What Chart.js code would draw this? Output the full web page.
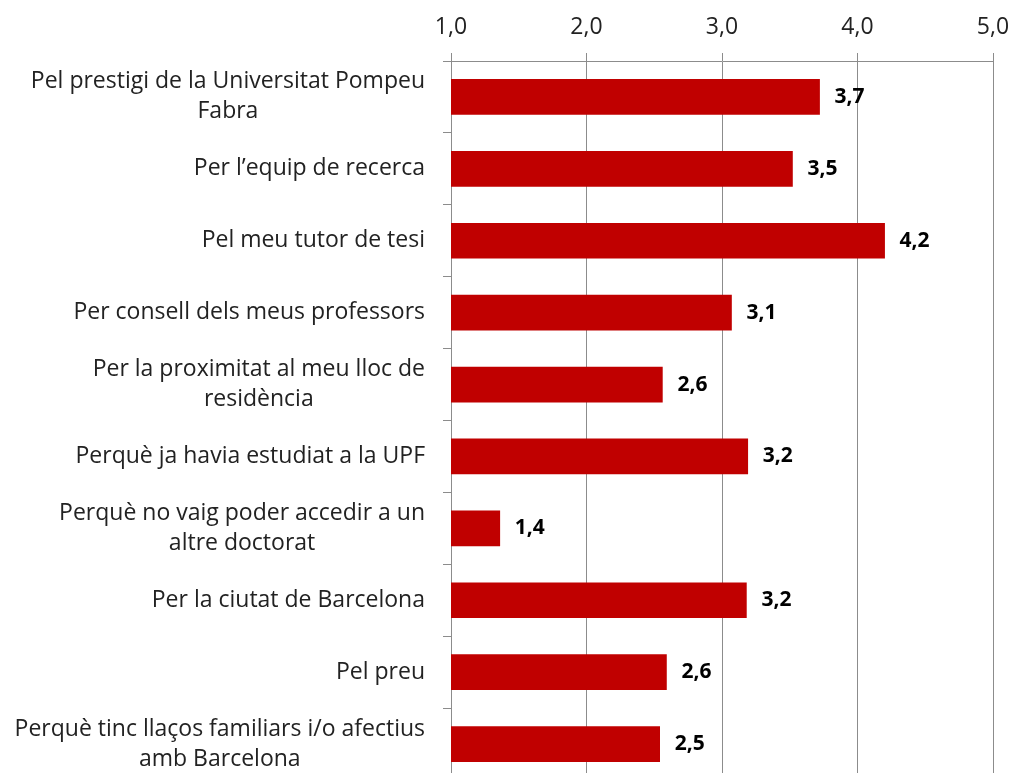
<!DOCTYPE html>
<html>
<head>
<meta charset="utf-8">
<script src="https://cdn.jsdelivr.net/npm/chart.js@4/dist/chart.umd.min.js"></script>
<style>
  html, body { margin: 0; padding: 0; background: #fff; overflow: hidden; }
  #wrap { position: relative; width: 1011px; height: 782px; }
</style>
</head>
<body>
<div id="wrap"><canvas id="chart"></canvas></div>
<script>
// categories (multi-line as in the original)
var reasons = [
    ['Pel prestigi de la Universitat Pompeu', 'Fabra'],
    ['Per l\u2019equip de recerca'],
    ['Pel meu tutor de tesi'],
    ['Per consell dels meus professors'],
    ['Per la proximitat al meu lloc de', 'resid\u00e8ncia'],
    ['Perqu\u00e8 ja havia estudiat a la UPF'],
    ['Perqu\u00e8 no vaig poder accedir a un', 'altre doctorat'],
    ['Per la ciutat de Barcelona'],
    ['Pel preu'],
    ['Perqu\u00e8 tinc lla\u00e7os familiars i/o afectius', 'amb Barcelona']
];
// mean scores
var scores = [3.72, 3.52, 4.20, 3.07, 2.56, 3.19, 1.36, 3.18, 2.59, 2.54];
// axis ticks
var axisMin = 1, axisMax = 5, axisStep = 1;

var fontFam = '"Open Sans", sans-serif';

function fmt(v) {
    return v.toFixed(1).replace('.', ',');
}

// draws the value next to each bar and the category labels left of the axis
var labelPlugin = {
    id: 'labelPlugin',
    afterDatasetsDraw: function(chart) {
        var ctx = chart.ctx;
        var meta = chart.getDatasetMeta(0);
        ctx.save();
        ctx.fillStyle = '#000';
        ctx.font = 'bold 21px ' + fontFam;
        ctx.textAlign = 'left';
        ctx.textBaseline = 'middle';
        meta.data.forEach(function(bar, i) {
            ctx.fillText(fmt(scores[i]), bar.x + 15, bar.y);
        });

        // category labels: block right-aligned, lines centered inside block
        var yScale = chart.scales.y;
        var right = 425;
        var lineH = 30;
        ctx.font = '23px ' + fontFam;
        ctx.fillStyle = '#222';
        ctx.textAlign = 'center';
        reasons.forEach(function(lines, i) {
            var cy = yScale.getPixelForValue(i);
            var maxW = 0;
            lines.forEach(function(l) { maxW = Math.max(maxW, ctx.measureText(l).width); });
            var cx = right - maxW / 2;
            var y0 = cy - (lines.length - 1) * lineH / 2;
            lines.forEach(function(l, k) {
                ctx.fillText(l, cx, y0 + k * lineH);
            });
        });
        ctx.restore();
    }
};

var ctx = document.getElementById('chart').getContext('2d');
var chart = new Chart(ctx, {
    type: 'bar',
    data: {
        labels: reasons,
        datasets: [{
            data: scores,
            backgroundColor: '#c00000',
            borderWidth: 0,
            barThickness: 35
        }]
    },
    options: {
        indexAxis: 'y',
        responsive: true,
        maintainAspectRatio: false,
        animation: false,
        layout: { padding: { left: 0, right: 0, top: 0, bottom: 2 } },
        plugins: {
            legend: { display: false },
            tooltip: { enabled: false }
        },
        scales: {
            x: {
                position: 'top',
                min: axisMin,
                max: axisMax,
                ticks: {
                    stepSize: axisStep,
                    padding: 12,
                    color: '#222',
                    font: { family: fontFam, size: 23 },
                    callback: function(v) { return fmt(v); }
                },
                grid: { color: '#8c8c8c', lineWidth: 1, tickLength: 8 },
                border: { color: '#8c8c8c' },
                afterFit: function(scale) {
                    scale.height = 61;
                    scale.paddingLeft = 0;
                    scale.paddingRight = 18;
                }
            },
            y: {
                ticks: { display: false },
                grid: { drawOnChartArea: false, color: '#8c8c8c', tickLength: 8 },
                border: { color: '#8c8c8c' },
                afterFit: function(scale) { scale.width = 451; }
            }
        }
    },
    plugins: [labelPlugin]
});
</script>
</body>
</html>
